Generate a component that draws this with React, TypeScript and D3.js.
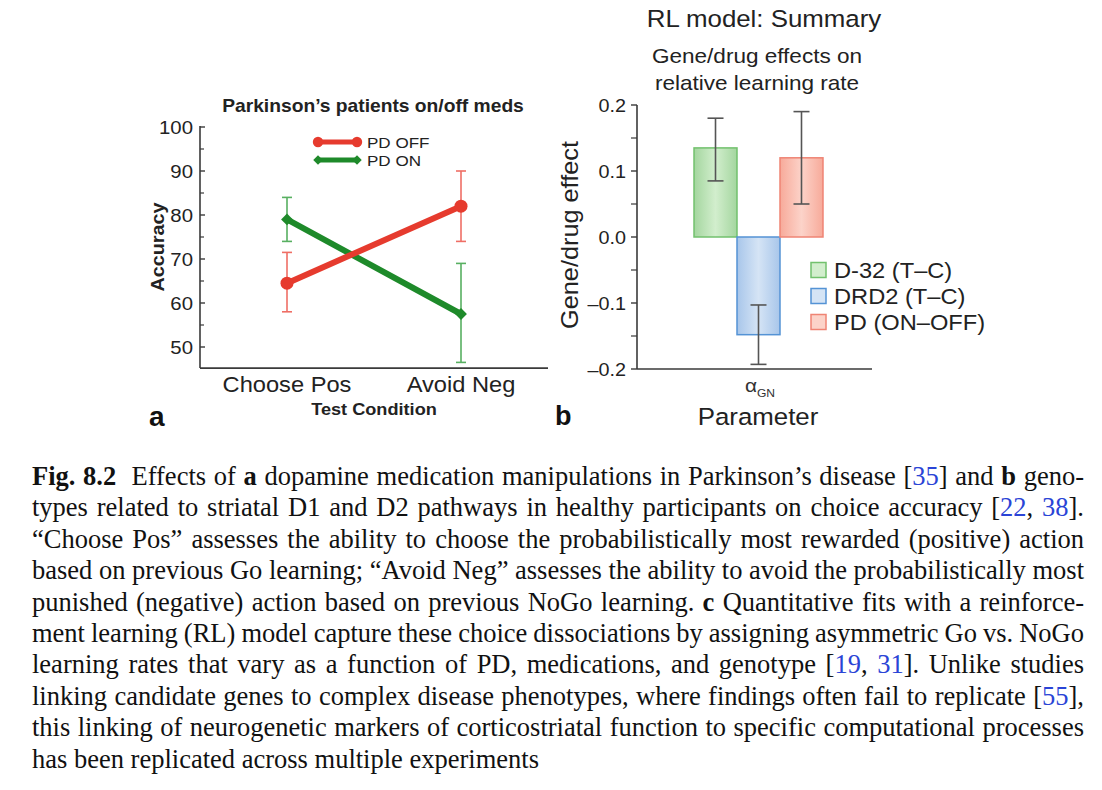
import React, { useMemo } from "react";
import * as d3 from "d3";

// ---------- Panel a data ----------
const conditions = ["Choose Pos", "Avoid Neg"];
const pdOffMean = [64.5, 82];
const pdOffLow = [58, 74];
const pdOffHigh = [71.5, 90];
const pdOnMean = [79, 57.5];
const pdOnLow = [74, 46.5];
const pdOnHigh = [84, 69];
const accuracyTicks = [50, 60, 70, 80, 90, 100];
const accuracyMinorTicks = [55, 65, 75, 85, 95];
const legendA = ["PD OFF", "PD ON"];

// ---------- Panel b data ----------
const parameters = ["αGN"];
const effectSeries = ["D-32 (T–C)", "DRD2 (T–C)", "PD (ON–OFF)"];
const effectValues = [0.135, -0.148, 0.12];
const effectLow = [0.085, -0.193, 0.05];
const effectHigh = [0.18, -0.103, 0.19];
const effectTicks = [-0.2, -0.1, 0, 0.1, 0.2];
const effectTickLabels = ["–0.2", "–0.1", "0.0", "0.1", "0.2"];
const effectMinorTicks = [-0.15, -0.05, 0.05, 0.15];

// ---------- Caption ----------
const captionLines = [
  "*Fig. 8.2*  Effects of *a* dopamine medication manipulations in Parkinson’s disease [{35}] and *b* geno-",
  "types related to striatal D1 and D2 pathways in healthy participants on choice accuracy [{22}, {38}].",
  "“Choose Pos” assesses the ability to choose the probabilistically most rewarded (positive) action",
  "based on previous Go learning; “Avoid Neg” assesses the ability to avoid the probabilistically most",
  "punished (negative) action based on previous NoGo learning. *c* Quantitative fits with a reinforce-",
  "ment learning (RL) model capture these choice dissociations by assigning asymmetric Go vs. NoGo",
  "learning rates that vary as a function of PD, medications, and genotype [{19}, {31}]. Unlike studies",
  "linking candidate genes to complex disease phenotypes, where findings often fail to replicate [{55}],",
  "this linking of neurogenetic markers of corticostriatal function to specific computational processes",
  "has been replicated across multiple experiments",
];

const SANS = "'Liberation Sans', Arial, Helvetica, sans-serif";
const SERIF = "'Liberation Serif', 'Times New Roman', serif";
const SX = 1.1;

const RED = "#e63b2e";
const RED_ERR = "#ee5f55";
const GREEN = "#1e8a2a";
const GREEN_ERR = "#46a851";
const AXIS = "#3a3a3a";

const barFill = [
  { edge: "#a4d69f", mid: "#d2eecd", stroke: "#72c16d" },
  { edge: "#a8c6ea", mid: "#d5e4f5", stroke: "#5493d5" },
  { edge: "#f7aa9a", mid: "#fcd3c9", stroke: "#ef8474" },
];

function T({ x, y, rot = 0, sx = SX, children, ...rest }: any) {
  return (
    <text transform={`translate(${x},${y}) rotate(${rot}) scale(${sx},1)`} {...rest}>
      {children}
    </text>
  );
}

type Run = { t: string; bold: boolean; blue: boolean };
type Word = { runs: Run[]; gapBefore: number; w?: number; x?: number };

function parseLine(s: string): Word[] {
  const runs: Run[] = [];
  let bold = false, blue = false, cur = "";
  const push = () => { if (cur) runs.push({ t: cur, bold, blue }); cur = ""; };
  for (const ch of s) {
    if (ch === "*") { push(); bold = !bold; }
    else if (ch === "{") { push(); blue = true; }
    else if (ch === "}") { push(); blue = false; }
    else cur += ch;
  }
  push();
  const words: Word[] = [];
  let w: Word = { runs: [], gapBefore: 0 };
  for (const r of runs) {
    let piece = "";
    for (const ch of r.t) {
      if (ch === " ") {
        if (piece) { w.runs.push({ ...r, t: piece }); piece = ""; }
        if (w.runs.length) { words.push(w); w = { runs: [], gapBefore: 0 }; }
        w.gapBefore += 1;
      } else piece += ch;
    }
    if (piece) w.runs.push({ ...r, t: piece });
  }
  if (w.runs.length) words.push(w);
  return words;
}

function Caption() {
  const FS = 26.5;
  const left = 32, right = 1084;
  const base0 = 485, lineGap = 31.4;
  const lines = useMemo(() => {
    const canvas = document.createElement("canvas");
    const ctx = canvas.getContext("2d")!;
    const measure = (t: string, bold: boolean) => {
      ctx.font = `${bold ? "bold " : ""}${FS}px "Liberation Serif"`;
      return ctx.measureText(t).width;
    };
    const space = measure(" ", false);
    return captionLines.map((s, i) => {
      const words = parseLine(s);
      words.forEach((w) => { w.w = d3.sum(w.runs, (r) => measure(r.t, r.bold)); });
      const total = d3.sum(words, (w) => w.w!);
      const units = d3.sum(words.slice(1), (w) => w.gapBefore);
      const last = i === captionLines.length - 1;
      const gap = last ? space : (right - left - total) / units;
      let x = left;
      words.forEach((w, k) => {
        if (k > 0) x += w.gapBefore * gap;
        w.x = x;
        x += w.w!;
      });
      return words;
    });
  }, []);
  return (
    <g fontFamily={SERIF} fontSize={FS} fill="#111">
      {lines.map((words, i) =>
        words.map((w, k) => (
          <text key={`${i}-${k}`} x={w.x} y={base0 + i * lineGap}>
            {w.runs.map((r, j) => (
              <tspan key={j} fontWeight={r.bold ? "bold" : "normal"} fill={r.blue ? "#2a44d6" : "#111"}>
                {r.t}
              </tspan>
            ))}
          </text>
        ))
      )}
    </g>
  );
}

function PanelA() {
  const x = d3.scalePoint<string>().domain(conditions).range([200, 548]).padding(0.5);
  const y = d3.scaleLinear().domain([50, 100]).range([347, 127]);
  const axisBottom = y(45.2);
  const line = d3.line<number>().x((_, i) => x(conditions[i])!).y((d) => y(d));
  const diamond = d3.symbol().type(d3.symbolSquare).size(70)()!;
  const series = [
    { name: legendA[1], mean: pdOnMean, lo: pdOnLow, hi: pdOnHigh, color: GREEN, err: GREEN_ERR, marker: "diamond" },
    { name: legendA[0], mean: pdOffMean, lo: pdOffLow, hi: pdOffHigh, color: RED, err: RED_ERR, marker: "circle" },
  ];
  const marker = (m: string, cx: number, cy: number, color: string, k: string, sc = 1) =>
    m === "circle" ? (
      <circle key={k} cx={cx} cy={cy} r={6.5 * sc} fill={color} />
    ) : (
      <path key={k} d={diamond} transform={`translate(${cx},${cy}) rotate(45) scale(${sc})`} fill={color} />
    );
  return (
    <g>
      <T x={373} y={112} fontFamily={SANS} fontWeight="bold" fontSize={17.5} textAnchor="middle" fill="#222">
        Parkinson’s patients on/off meds
      </T>
      {/* axes */}
      <line x1={200} x2={200} y1={126} y2={axisBottom} stroke={AXIS} strokeWidth={1.6} />
      <line x1={200} x2={548} y1={axisBottom} y2={axisBottom} stroke={AXIS} strokeWidth={1.6} />
      {accuracyTicks.map((t) => (
        <g key={t}>
          <line x1={200} x2={205} y1={y(t)} y2={y(t)} stroke={AXIS} strokeWidth={1.4} />
          <T x={193} y={y(t) + 6.5} fontFamily={SANS} fontSize={18.5} textAnchor="end" fill="#222">
            {t}
          </T>
        </g>
      ))}
      {accuracyMinorTicks.map((t) => (
        <line key={t} x1={200} x2={204} y1={y(t)} y2={y(t)} stroke={AXIS} strokeWidth={1.2} />
      ))}
      <T x={164} y={247} rot={-90} fontFamily={SANS} fontWeight="bold" fontSize={18} textAnchor="middle" fill="#222">
        Accuracy
      </T>
      {conditions.map((c) => (
        <T key={c} x={x(c)!} y={392} fontFamily={SANS} fontSize={21.5} textAnchor="middle" fill="#222">
          {c}
        </T>
      ))}
      <T x={374} y={415} fontFamily={SANS} fontWeight="bold" fontSize={16.5} textAnchor="middle" fill="#222">
        Test Condition
      </T>
      <text x={149} y={426} fontFamily={SANS} fontWeight="bold" fontSize={28} fill="#111">a</text>

      {/* error bars */}
      {series.map((s) =>
        s.mean.map((_, i) => {
          const cx = x(conditions[i])!;
          return (
            <g key={`${s.name}-e${i}`} stroke={s.err} strokeWidth={1.6} opacity={0.9}>
              <line x1={cx} x2={cx} y1={y(s.lo[i])} y2={y(s.hi[i])} />
              <line x1={cx - 5} x2={cx + 5} y1={y(s.lo[i])} y2={y(s.lo[i])} />
              <line x1={cx - 5} x2={cx + 5} y1={y(s.hi[i])} y2={y(s.hi[i])} />
            </g>
          );
        })
      )}
      {/* lines */}
      {series.map((s) => (
        <g key={s.name}>
          <path d={line(s.mean)!} fill="none" stroke={s.color} strokeWidth={6} strokeLinecap="round" />
          {s.mean.map((v, i) => marker(s.marker, x(conditions[i])!, y(v), s.color, `${s.name}m${i}`))}
        </g>
      ))}
      {/* legend */}
      {[series[1], series[0]].map((s, i) => {
        const ly = 142 + i * 18;
        return (
          <g key={`lg${s.name}`}>
            <line x1={318} x2={357} y1={ly} y2={ly} stroke={s.color} strokeWidth={5} />
            {marker(s.marker, 318, ly, s.color, "a", 0.8)}
            {marker(s.marker, 357, ly, s.color, "b", 0.8)}
            <T x={367} y={ly + 5.5} fontFamily={SANS} fontSize={15.5} fill="#222">
              {s.name}
            </T>
          </g>
        );
      })}
    </g>
  );
}

function PanelB() {
  const y = d3.scaleLinear().domain([-0.2, 0.2]).range([369, 105]);
  const outer = d3.scaleBand<string>().domain(parameters).range([637, 880]).paddingInner(0).paddingOuter(0.442);
  const inner = d3.scaleBand<string>().domain(effectSeries).range([0, outer.bandwidth()]);
  const x0 = outer(parameters[0])!;
  return (
    <g>
      <defs>
        {barFill.map((c, i) => (
          <linearGradient key={i} id={`bar${i}`} x1="0" x2="1" y1="0" y2="0">
            <stop offset="0%" stopColor={c.edge} />
            <stop offset="50%" stopColor={c.mid} />
            <stop offset="100%" stopColor={c.edge} />
          </linearGradient>
        ))}
      </defs>
      <T x={764} y={27} fontFamily={SANS} fontSize={23.5} textAnchor="middle" fill="#222">
        RL model: Summary
      </T>
      <T x={757} y={63} fontFamily={SANS} fontSize={20.5} textAnchor="middle" fill="#222">
        Gene/drug effects on
      </T>
      <T x={757} y={90} fontFamily={SANS} fontSize={20.5} textAnchor="middle" fill="#222">
        relative learning rate
      </T>
      {/* bars */}
      {effectSeries.map((s, i) => {
        const bx = x0 + inner(s)!;
        const v = effectValues[i];
        return (
          <rect
            key={s}
            x={bx}
            y={Math.min(y(v), y(0))}
            width={inner.bandwidth()}
            height={Math.abs(y(v) - y(0))}
            fill={`url(#bar${i})`}
            stroke={barFill[i].stroke}
            strokeWidth={1.5}
          />
        );
      })}
      {effectSeries.map((s, i) => {
        const cx = x0 + inner(s)! + inner.bandwidth() / 2;
        return (
          <g key={`e${s}`} stroke="#555" strokeWidth={1.6}>
            <line x1={cx} x2={cx} y1={y(effectLow[i])} y2={y(effectHigh[i])} />
            <line x1={cx - 8} x2={cx + 8} y1={y(effectLow[i])} y2={y(effectLow[i])} />
            <line x1={cx - 8} x2={cx + 8} y1={y(effectHigh[i])} y2={y(effectHigh[i])} />
          </g>
        );
      })}
      {/* axes */}
      <line x1={637} x2={637} y1={y(0.2)} y2={y(-0.2)} stroke={AXIS} strokeWidth={1.6} />
      <line x1={637} x2={872} y1={y(-0.2)} y2={y(-0.2)} stroke={AXIS} strokeWidth={1.6} />
      {effectTicks.map((t, i) => (
        <g key={t}>
          <line x1={631} x2={637} y1={y(t)} y2={y(t)} stroke={AXIS} strokeWidth={1.4} />
          <T x={626} y={y(t) + 6.5} fontFamily={SANS} fontSize={18} textAnchor="end" fill="#222">
            {effectTickLabels[i]}
          </T>
        </g>
      ))}
      {effectMinorTicks.map((t) => (
        <line key={t} x1={631} x2={637} y1={y(t)} y2={y(t)} stroke={AXIS} strokeWidth={1.2} />
      ))}
      <T x={578} y={235} rot={-90} fontFamily={SANS} fontSize={23} textAnchor="middle" fill="#222">
        Gene/drug effect
      </T>
      <T x={760} y={392} fontFamily={SANS} fontSize={19} textAnchor="middle" fill="#333">
        α<tspan fontSize={11} dy={5}>GN</tspan>
      </T>
      <T x={758} y={425} fontFamily={SANS} fontSize={23.5} textAnchor="middle" fill="#222">
        Parameter
      </T>
      <text x={555} y={425} fontFamily={SANS} fontWeight="bold" fontSize={27} fill="#111">b</text>
      {/* legend */}
      {effectSeries.map((s, i) => {
        const ly = 270 + i * 26;
        return (
          <g key={`lg${s}`}>
            <rect x={811} y={ly - 7.5} width={15} height={15} fill={barFill[i].mid} stroke={barFill[i].stroke} strokeWidth={1.5} />
            <T x={834} y={ly + 8} fontFamily={SANS} fontSize={21.5} fill="#222">
              {s}
            </T>
          </g>
        );
      })}
    </g>
  );
}

export default function App() {
  return (
    <svg
      width={1102}
      height={790}
      viewBox="0 0 1102 790"
      style={{ position: "absolute", left: 0, top: 0, background: "#fff" }}
    >
      <rect width={1102} height={790} fill="#fff" />
      <PanelA />
      <PanelB />
      <Caption />
    </svg>
  );
}
